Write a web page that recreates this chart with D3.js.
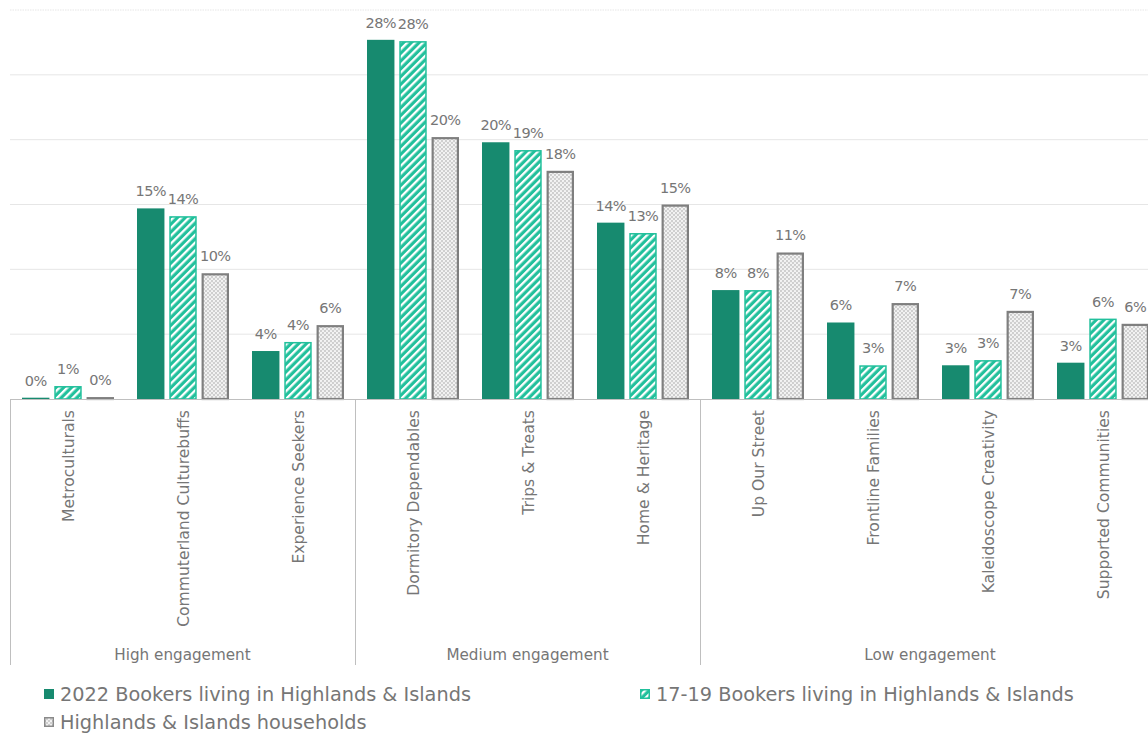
<!DOCTYPE html>
<html>
<head>
<meta charset="utf-8">
<script src="https://cdn.jsdelivr.net/npm/d3@7"></script>
<style>
  html, body { margin: 0; padding: 0; background: #fff; }
  svg { display: block; }
  text { font-family: "DejaVu Sans", Verdana, sans-serif; fill: #767676; }
</style>
</head>
<body>
<svg id="chart" width="1148" height="735"></svg>
<script>
// Audience segments, in display order
const categories = [
  "Metroculturals", "Commuterland Culturebuffs", "Experience Seekers",
  "Dormitory Dependables", "Trips & Treats", "Home & Heritage",
  "Up Our Street", "Frontline Families", "Kaleidoscope Creativity", "Supported Communities"
];
// Engagement groups and how many segments each spans
const groupNames = ["High engagement", "Medium engagement", "Low engagement"];
const groupSizes = [3, 3, 4];

// Share of each population (%)
const bookers2022 = [0.1, 14.7, 3.7, 27.7, 19.8, 13.6, 8.4, 5.9, 2.6, 2.8];
const bookers1719 = [1.0, 14.1, 4.4, 27.6, 19.2, 12.8, 8.4, 2.6, 3.0, 6.2];
const households  = [0.15, 9.7, 5.7, 20.2, 17.6, 15.0, 11.3, 7.4, 6.8, 5.8];

const seriesNames = [
  "2022 Bookers living in Highlands & Islands",
  "17-19 Bookers living in Highlands & Islands",
  "Highlands & Islands households"
];
const yTicks = [5, 10, 15, 20, 25, 30];

const series = [bookers2022, bookers1719, households];

const svg = d3.select("#chart");
const defs = svg.append("defs");

// Diagonal white hatch over light teal
const hatch = defs.append("pattern")
  .attr("id", "hatch").attr("patternUnits", "userSpaceOnUse")
  .attr("width", 5.5).attr("height", 5.5)
  .attr("patternTransform", "rotate(45)");
hatch.append("rect").attr("width", 5.5).attr("height", 5.5).attr("fill", "#22C09C");
hatch.append("rect").attr("x", 0).attr("width", 2.3).attr("height", 5.5).attr("fill", "#fff");

// Fine grey lattice
const lattice = defs.append("pattern")
  .attr("id", "lattice").attr("patternUnits", "userSpaceOnUse")
  .attr("width", 4).attr("height", 4);
lattice.append("rect").attr("width", 4).attr("height", 4).attr("fill", "#cfcfcf");
lattice.append("circle").attr("cx", 1).attr("cy", 1).attr("r", 1.1).attr("fill", "#f7f7f7");
lattice.append("circle").attr("cx", 3).attr("cy", 3).attr("r", 1.1).attr("fill", "#f7f7f7");

const styles = [
  { fill: "#178A6F", stroke: "#178A6F", sw: 0 },
  { fill: "url(#hatch)", stroke: "#22C09C", sw: 1.5 },
  { fill: "url(#lattice)", stroke: "#7f7f7f", sw: 2.2 }
];

const plotLeft = 10, plotRight = 1160, plotTop = 10, baseline = 399, axisBottom = 665;

const x = d3.scaleBand().domain(categories).range([plotLeft, plotRight]).padding(0);
const xs = d3.scaleBand().domain([0, 1, 2])
  .range([12, x.bandwidth() - 11]).paddingInner(0.15).paddingOuter(0);
const y = d3.scaleLinear().domain([0, 30]).range([baseline, plotTop]);

// Gridlines
svg.append("g").selectAll("line").data(yTicks).join("line")
  .attr("x1", plotLeft).attr("x2", 1148)
  .attr("y1", d => y(d)).attr("y2", d => y(d))
  .attr("stroke", "#e6e6e6").attr("stroke-width", 1)
  .attr("stroke-dasharray", d => d === 30 ? "1.5,1" : null);

// Bars
const catG = svg.append("g").selectAll("g").data(categories).join("g")
  .attr("transform", d => `translate(${x(d)},0)`);

series.forEach((vals, si) => {
  const st = styles[si];
  catG.append("rect")
    .attr("x", (d, i) => xs(si) + st.sw / 2)
    .attr("width", xs.bandwidth() - st.sw)
    .attr("y", (d, i) => y(vals[i]) + st.sw / 2)
    .attr("height", (d, i) => Math.max(0, baseline - y(vals[i]) - st.sw / 2))
    .attr("fill", st.fill)
    .attr("stroke", st.sw ? st.stroke : "none")
    .attr("stroke-width", st.sw);
  catG.append("text")
    .attr("x", xs(si) + xs.bandwidth() / 2)
    .attr("y", (d, i) => y(vals[i]) - 12)
    .attr("text-anchor", "middle")
    .attr("font-size", 14.5)
    .attr("letter-spacing", -0.6)
    .attr("fill", "#707070")
    .text((d, i) => d3.format(".0f")(vals[i]) + "%");
});

// Baseline axis
svg.append("line")
  .attr("x1", plotLeft).attr("x2", 1148).attr("y1", baseline + 0.5).attr("y2", baseline + 0.5)
  .attr("stroke", "#bfbfbf").attr("stroke-width", 1.2);

// Group dividers
let acc = 0;
const bounds = [0];
groupSizes.forEach(n => { acc += n; bounds.push(acc); });
svg.append("g").selectAll("line").data(bounds.slice(0, -1)).join("line")
  .attr("x1", d => plotLeft + d * x.step() + 0.5).attr("x2", d => plotLeft + d * x.step() + 0.5)
  .attr("y1", baseline).attr("y2", axisBottom)
  .attr("stroke", "#bfbfbf").attr("stroke-width", 1);

// Category labels (rotated)
svg.append("g").selectAll("text").data(categories).join("text")
  .attr("transform", d => `translate(${x(d) + x.bandwidth() / 2 + 6},410) rotate(-90)`)
  .attr("text-anchor", "end")
  .attr("font-size", 15.6)
  .attr("fill", "#6e6e6e")
  .text(d => d);

// Group labels
svg.append("g").selectAll("text").data(groupNames).join("text")
  .attr("x", (d, i) => plotLeft + (bounds[i] + bounds[i + 1]) / 2 * x.step())
  .attr("y", 660)
  .attr("text-anchor", "middle")
  .attr("font-size", 15.2)
  .attr("fill", "#6e6e6e")
  .text(d => d);

// Legend
const legendPos = [[44, 694], [640, 694], [44, 722]];
const legendStyles = [
  { fill: "#178A6F", stroke: "none", sw: 0 },
  { fill: "url(#hatch)", stroke: "#22C09C", sw: 1.5 },
  { fill: "url(#lattice)", stroke: "#8a8a8a", sw: 1.5 }
];
const lg = svg.append("g").selectAll("g").data(seriesNames).join("g")
  .attr("transform", (d, i) => `translate(${legendPos[i][0]},${legendPos[i][1]})`);
lg.append("rect")
  .attr("x", (d, i) => legendStyles[i].sw / 2)
  .attr("y", (d, i) => -5 + legendStyles[i].sw / 2)
  .attr("width", (d, i) => 10 - legendStyles[i].sw)
  .attr("height", (d, i) => 10 - legendStyles[i].sw)
  .attr("fill", (d, i) => legendStyles[i].fill)
  .attr("stroke", (d, i) => legendStyles[i].stroke)
  .attr("stroke-width", (d, i) => legendStyles[i].sw);
lg.append("text")
  .attr("x", 16).attr("y", 7)
  .attr("font-size", 19.3)
  .attr("fill", "#6e6e6e")
  .text(d => d);
</script>
</body>
</html>
